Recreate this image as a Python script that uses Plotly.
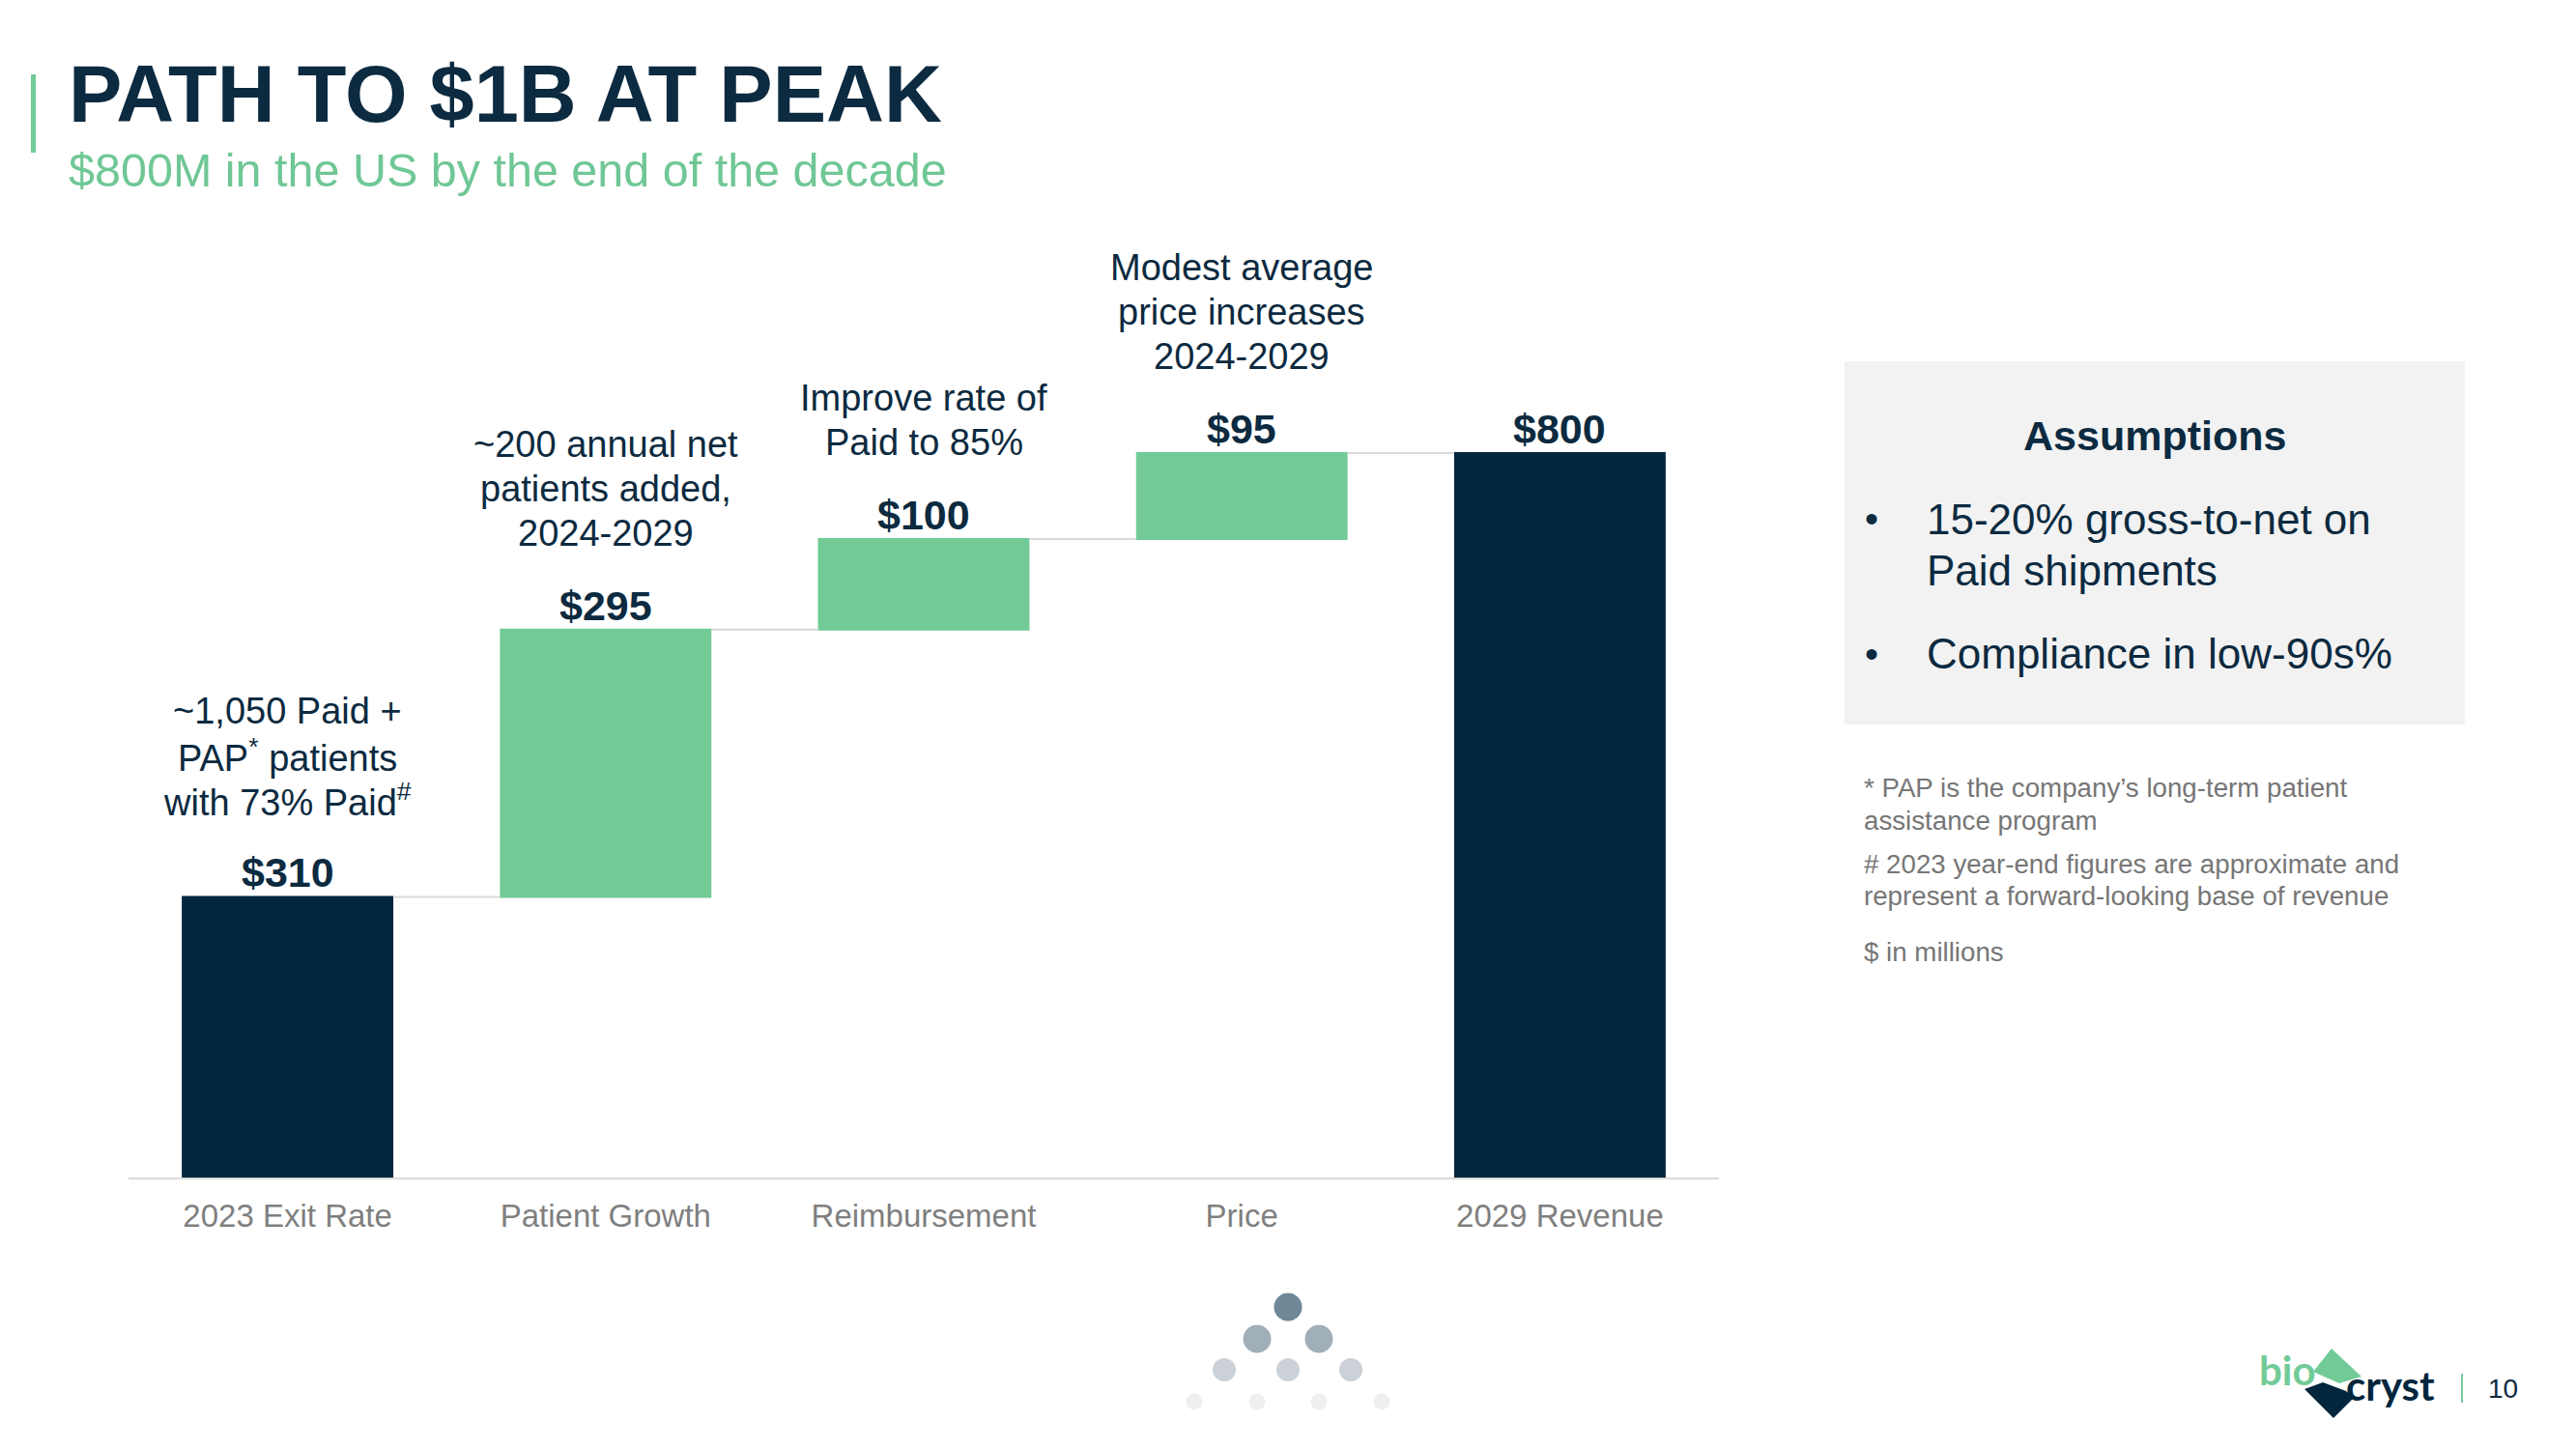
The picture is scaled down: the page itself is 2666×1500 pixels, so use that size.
import plotly.graph_objects as go

W, H = 2666, 1500
OFF = 8  # browser default body margin compensation

# ---------------- data ----------------
categories = ["2023 Exit Rate", "Patient Growth", "Reimbursement", "Price", "2029 Revenue"]
measures = ["absolute", "relative", "relative", "relative", "total"]
values = [310, 295, 100, 95, 0]
value_labels = ["$310", "$295", "$100", "$95", "$800"]
driver_notes = [
    ["~1,050 Paid +", "PAP<sup>*</sup> patients", "with 73% Paid<sup>#</sup>"],
    ["~200 annual net", "patients added,", "2024-2029"],
    ["Improve rate of", "Paid to 85%"],
    ["Modest average", "price increases", "2024-2029"],
    [],
]
title_text = "PATH TO $1B AT PEAK"
subtitle_text = "$800M in the US by the end of the decade"
assumptions_title = "Assumptions"
assumptions = [["15-20% gross-to-net on", "Paid shipments"], ["Compliance in low-90s%"]]
footnotes = [
    ["* PAP is the company\u2019s long-term patient", "assistance program"],
    ["# 2023 year-end figures are approximate and", "represent a forward-looking base of revenue"],
    ["$ in millions"],
]

NAVY = "#02263E"
GREEN = "#72CB97"
TEXT_NAVY = "#0C2A40"
GREY = "#7F7F7F"
FONT = "Liberation Sans, Arial, sans-serif"


def px(x):
    return (x - OFF) / W


def py(y):
    return 1 - (y - OFF) / H


# running tops of bars (computed from values)
tops = []
s = 0
for m, v in zip(measures, values):
    if m == "absolute":
        s = v
    elif m == "relative":
        s += v
    tops.append(s)

fig = go.Figure()
fig.add_trace(go.Waterfall(
    x=categories,
    y=values,
    measure=measures,
    increasing=dict(marker=dict(color=GREEN)),
    totals=dict(marker=dict(color=NAVY)),
    decreasing=dict(marker=dict(color=NAVY)),
    connector=dict(line=dict(color="#D9D9D9", width=2), mode="between"),
    hoverinfo="skip",
    showlegend=False,
))

# plot area geometry (pixels): x 133..1779, y baseline 1219, 800 -> 469
y_top_px = 250
y_bottom_px = 1219
px_per_unit = (1219 - 469) / 800.0
ymax = (y_bottom_px - y_top_px) / px_per_unit

annotations = []
for i, cat in enumerate(categories):
    annotations.append(dict(
        x=cat, y=tops[i], xref="x", yref="y", text="<b>%s</b>" % value_labels[i],
        showarrow=False, yanchor="middle", yshift=25,
        font=dict(family=FONT, size=43, color=TEXT_NAVY)))
    n = len(driver_notes[i])
    for k, ln in enumerate(driver_notes[i]):
        annotations.append(dict(
            x=cat, y=tops[i], xref="x", yref="y", text=ln,
            showarrow=False, yanchor="middle", yshift=100 + 46 * (n - 1 - k), align="center",
            font=dict(family=FONT, size=38, color=TEXT_NAVY)))

# title and subtitle
annotations.append(dict(x=px(69), y=py(97), xref="paper", yref="paper", xanchor="left", yanchor="middle",
                        text="<b>%s</b>" % title_text, showarrow=False,
                        font=dict(family=FONT, size=83, color=TEXT_NAVY)))
annotations.append(dict(x=px(69), y=py(176), xref="paper", yref="paper", xanchor="left", yanchor="middle",
                        text=subtitle_text, showarrow=False,
                        font=dict(family=FONT, size=48.5, color="#6FC795")))

# assumptions box text
annotations.append(dict(x=px(2230), y=py(451), xref="paper", yref="paper", xanchor="center", yanchor="middle",
                        text="<b>%s</b>" % assumptions_title, showarrow=False,
                        font=dict(family=FONT, size=43, color=TEXT_NAVY)))
bullet_y = [537, 677]
for lines, by in zip(assumptions, bullet_y):
    annotations.append(dict(x=px(1937), y=py(by), xref="paper", yref="paper", xanchor="center", yanchor="middle",
                            text="\u2022", showarrow=False, font=dict(family=FONT, size=40, color=TEXT_NAVY)))
    for k, ln in enumerate(lines):
        annotations.append(dict(x=px(1992), y=py(by + 53 * k), xref="paper", yref="paper", xanchor="left",
                                yanchor="middle", text=ln, showarrow=False,
                                font=dict(family=FONT, size=44, color=TEXT_NAVY)))

# footnotes
foot_y = [816, 894, 985]
for lines, fy in zip(footnotes, foot_y):
    for k, ln in enumerate(lines):
        annotations.append(dict(x=px(1927), y=py(fy + 33 * k), xref="paper", yref="paper", xanchor="left",
                                yanchor="middle", text=ln, showarrow=False,
                                font=dict(family=FONT, size=27.7, color="#767676")))

# logo text + page number
annotations.append(dict(x=px(2336), y=py(1418), xref="paper", yref="paper", xanchor="left", yanchor="middle",
                        text="<b>bio</b>", showarrow=False, font=dict(family="Lato, sans-serif", size=42, color=GREEN)))
annotations.append(dict(x=px(2426), y=py(1434), xref="paper", yref="paper", xanchor="left", yanchor="middle",
                        text="<b>cryst</b>", showarrow=False, font=dict(family="Lato, sans-serif", size=42, color=NAVY)))
annotations.append(dict(x=px(2573), y=py(1437), xref="paper", yref="paper", xanchor="left", yanchor="middle",
                        text="10", showarrow=False, font=dict(family=FONT, size=28, color=TEXT_NAVY)))

shapes = []
# left accent bar
shapes.append(dict(type="rect", xref="paper", yref="paper", x0=px(32), x1=px(37), y0=py(158), y1=py(77),
                   fillcolor=GREEN, line=dict(width=0)))
# assumptions box
shapes.append(dict(type="rect", xref="paper", yref="paper", x0=px(1909), x1=px(2551), y0=py(750), y1=py(374),
                   fillcolor="#F2F2F2", line=dict(width=0), layer="below"))
# decorative dots
dots = [
    (1333, 1353, 29, "#6F8796"),
    (1301, 1386, 29, "#A1AFB9"), (1365, 1386, 29, "#A1AFB9"),
    (1267, 1418, 24, "#CBD1D6"), (1333, 1418, 24, "#CBD1D6"), (1398, 1418, 24, "#CBD1D6"),
    (1236, 1451, 17, "#EEEFF1"), (1301, 1451, 17, "#EEEFF1"), (1365, 1451, 17, "#EEEFF1"), (1430, 1451, 17, "#EEEFF1"),
]
for cx, cy, d, c in dots:
    r = d / 2
    shapes.append(dict(type="circle", xref="paper", yref="paper", x0=px(cx - r), x1=px(cx + r),
                       y0=py(cy + r), y1=py(cy - r), fillcolor=c, line=dict(width=0)))


def path(pts):
    return "M " + " L ".join("%f,%f" % (px(x), py(y)) for x, y in pts) + " Z"


shapes.append(dict(type="path", xref="paper", yref="paper",
                   path=path([(2413, 1396), (2444, 1425), (2421, 1432), (2394, 1420)]),
                   fillcolor=GREEN, line=dict(width=0)))
shapes.append(dict(type="path", xref="paper", yref="paper",
                   path=path([(2385, 1438), (2404, 1431), (2428, 1440), (2436, 1447), (2415, 1468)]),
                   fillcolor=NAVY, line=dict(width=0)))
shapes.append(dict(type="line", xref="paper", yref="paper", x0=px(2548), x1=px(2548), y0=py(1452), y1=py(1422),
                   line=dict(color=GREEN, width=2)))

fig.update_layout(
    width=W, height=H,
    margin=dict(l=0, r=0, t=0, b=0),
    paper_bgcolor="white", plot_bgcolor="white",
    waterfallgap=0.335,
    showlegend=False,
    hovermode=False,
    annotations=annotations,
    shapes=shapes,
    xaxis=dict(domain=[px(133), px(1779)], showline=True, linecolor="#D9D9D9", linewidth=2,
               showgrid=False, zeroline=False, ticks="", ticklabelstandoff=9,
               tickfont=dict(family=FONT, size=33, color=GREY), fixedrange=True),
    yaxis=dict(domain=[py(y_bottom_px), py(y_top_px)], range=[0, ymax], visible=False, showgrid=False,
               zeroline=False, fixedrange=True),
)

fig.write_html("out.html")
